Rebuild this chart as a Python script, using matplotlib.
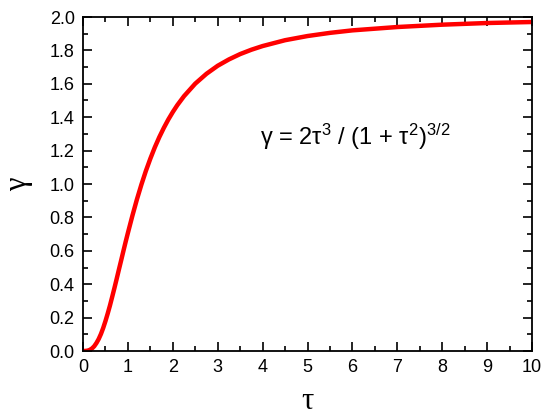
import matplotlib
matplotlib.use('Agg')
import matplotlib.pyplot as plt

# values
tau = [0, 0.05, 0.1, 0.15, 0.2, 0.25, 0.3, 0.35, 0.4, 0.45, 0.5, 0.55, 0.6, 0.65,
       0.7, 0.75, 0.8, 0.85, 0.9, 0.95, 1.0, 1.1, 1.2, 1.3, 1.4, 1.5, 1.6, 1.7,
       1.8, 1.9, 2.0, 2.1, 2.25, 2.5, 2.75, 3.0, 3.25, 3.5, 3.75, 4.0, 4.5, 5.0,
       5.5, 6.0, 7.0, 8.0, 9.0, 10.0]
gamma = [0, 0.0003, 0.002, 0.0065, 0.015, 0.0285, 0.048, 0.072, 0.102, 0.138,
         0.179, 0.224, 0.272, 0.324, 0.377, 0.432, 0.488, 0.543, 0.599, 0.654,
         0.707, 0.810, 0.907, 0.996, 1.078, 1.152, 1.220, 1.281, 1.336, 1.386,
         1.431, 1.472, 1.526, 1.601, 1.660, 1.708, 1.746, 1.778, 1.804, 1.826,
         1.861, 1.886, 1.905, 1.920, 1.940, 1.954, 1.964, 1.970]

plt.rcParams['font.family'] = ['Liberation Sans', 'DejaVu Sans']
plt.rcParams['mathtext.fontset'] = 'custom'
plt.rcParams['mathtext.rm'] = 'Liberation Sans'
plt.rcParams['mathtext.it'] = 'Liberation Sans'

fig = plt.figure(figsize=(5.5, 4.15), dpi=100)
ax = fig.add_axes([83/550, 1 - 351/415, (532 - 83)/550, (351 - 17)/415])

ax.plot(tau, gamma, color='#ff0000', lw=3.2, solid_capstyle='butt')

ax.set_xlim(0, 10)
ax.set_ylim(0, 2.0)
ax.set_xticks(range(0, 11))
ax.set_xticks([i + 0.5 for i in range(10)], minor=True)
ax.set_yticks([0.2 * i for i in range(11)])
ax.set_yticks([0.1 + 0.2 * i for i in range(10)], minor=True)
ax.set_yticklabels(['%.1f' % (0.2 * i) for i in range(11)])

ax.tick_params(which='both', direction='in', top=True, right=True, labelsize=13, width=1.2)
ax.tick_params(which='major', length=6.5, pad=6)
ax.tick_params(which='minor', length=3.5)
for s in ax.spines.values():
    s.set_linewidth(1.3)

ax.set_xlabel('τ', fontsize=22, family='Liberation Serif', labelpad=8)
ax.set_ylabel('γ', fontsize=22, family='Liberation Serif', labelpad=12)

# formula placed in figure pixels (origin bottom-left)
ax.text(260 / 550, 1 - 137 / 415, 'γ = 2τ$^3$ / (1 + τ$^2$)$^{3/2}$',
        transform=fig.transFigure, fontsize=17, va='center', ha='left')

fig.savefig('out.png', dpi=100)
